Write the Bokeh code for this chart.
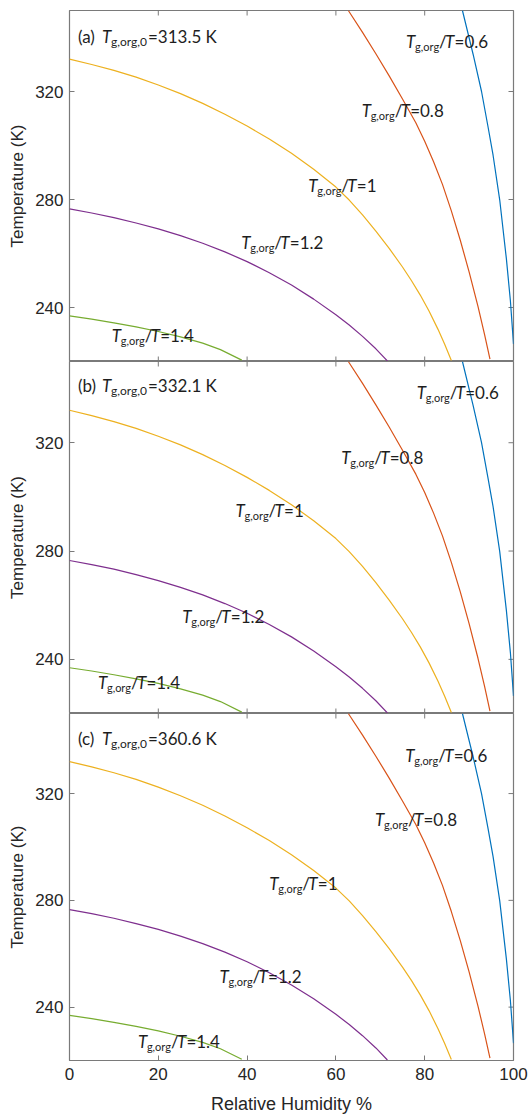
import math
from bokeh.plotting import figure
from bokeh.layouts import column
from bokeh.models import Range1d, FixedTicker, ColumnDataSource
from bokeh.core.properties import value
from bokeh.embed import file_html
from bokeh.resources import INLINE

# ---- data (identical curves in all three panels) ----
rh_06 = [88.5, 90.9, 92.8, 94.2, 95.4, 96.9, 98.4, 99.3, 100.0]
t_06 = [350.0, 333.8, 320.0, 307.5, 296.4, 279.8, 258.0, 242.5, 226.5]

rh_08 = [62.8, 66, 69, 72, 75, 78, 80, 82, 84, 86, 88, 90, 92, 93.5, 94.7]
t_08 = [350.0, 341.9, 334.0, 325.8, 317.2, 308.4, 301.6, 294.0, 285.6, 275.8,
        265.0, 253.2, 240.4, 229.9, 220.9]

rh_10 = [0, 5, 10, 15, 20, 25, 30, 35, 40, 45, 50, 55, 60, 63, 66, 69, 72, 75,
         77, 79, 81, 83, 84.5, 86.0]
t_10 = [332.0, 330.0, 327.8, 325.3, 322.4, 319.2, 315.6, 311.6, 307.2, 302.4, 297.1,
        291.2, 284.6, 279.8, 274.3, 268.3, 261.9, 255.0, 250.0, 244.6, 238.6, 231.9,
        226.4, 220.4]

rh_12 = [0, 5, 10, 15, 20, 25, 30, 35, 40, 45, 50, 55, 60, 63, 66, 69, 71.6]
t_12 = [276.5, 275.0, 273.3, 271.3, 269.1, 266.6, 263.8, 260.6, 257.0, 252.9, 248.3,
        243.1, 237.3, 233.5, 229.3, 224.7, 220.2]

rh_14 = [0, 5, 10, 15, 20, 25, 30, 34, 38.8]
t_14 = [236.9, 235.7, 234.3, 232.8, 231.1, 229.1, 226.8, 224.4, 220.5]

ratios = ["0.6", "0.8", "1", "1.2", "1.4"]
colors = ["#0072BD", "#D95319", "#EDB120", "#7E2F8E", "#77AC30"]
curves = [(rh_06, t_06), (rh_08, t_08), (rh_10, t_10), (rh_12, t_12), (rh_14, t_14)]

panel_tags = ["(a) ", "(b) ", "(c) "]
panel_tg0 = ["313.5", "332.1", "360.6"]

x_ticks = [0, 20, 40, 60, 80, 100]
y_ticks = [240, 280, 320]
XMIN, XMAX = 0, 100
YMIN, YMAX = 220, 350

# label anchor positions (data coords) per panel
label_x = [[75.8, 65.8, 53.8, 38.7, 9.5],
           [78.2, 61.2, 37.4, 25.4, 6.4],
           [75.6, 68.8, 45.0, 33.8, 15.4]]
label_y = [[338.5, 313.0, 285.3, 263.9, 229.5],
           [338.6, 314.6, 295.1, 255.7, 231.5],
           [334.4, 310.4, 286.4, 251.3, 227.3]]
title_x = [1.9, 1.9, 1.9]
title_y = [340.3, 341.3, 340.8]

AXC = "#7a7a7a"
TXT = "#1e1e1e"
LFONT = "Lato"
AFONT = "Liberation Sans"


def style_axis(ax, ticks, label_size):
    ax.ticker = FixedTicker(ticks=ticks)
    ax.axis_line_color = None
    ax.major_tick_line_color = AXC
    ax.major_tick_line_width = 1
    ax.major_tick_in = 5
    ax.major_tick_out = 0
    ax.minor_tick_line_color = None
    ax.major_label_text_font = AFONT
    ax.major_label_text_font_size = "17px"
    ax.major_label_text_color = "#262626"
    ax.axis_label_text_font = AFONT
    ax.axis_label_text_font_size = label_size
    ax.axis_label_text_font_style = "normal"
    ax.axis_label_text_color = "#262626"


def add_piece(p, src, field, dx, dy, size, italic=False):
    p.text(x="x", y="y", text=field, source=src,
           text_font=value(LFONT), text_font_size=size,
           text_font_style="italic" if italic else "normal",
           text_color=TXT, text_baseline="middle", text_align="left",
           x_offset=dx, y_offset=dy)


def make_panel(i, height, top, bottom, last):
    p = figure(width=530, height=height, x_range=Range1d(XMIN, XMAX), y_range=Range1d(YMIN, YMAX),
               output_backend="svg", toolbar_location=None,
               x_axis_location="below" if last else None,
               min_border_left=69, min_border_right=17, min_border_top=top, min_border_bottom=bottom)
    p.outline_line_color = AXC
    p.outline_line_width = 1.2
    p.grid.visible = False
    p.background_fill_color = "white"
    p.border_fill_color = "white"

    ya = p.yaxis[0]
    style_axis(ya, y_ticks, "17px")
    ya.axis_label = "Temperature (K)"
    ya.major_label_standoff = 6
    ya.axis_label_standoff = 5
    if last:
        xa = p.xaxis[0]
        style_axis(xa, x_ticks, "18px")
        xa.axis_label = "Relative Humidity %"
        xa.major_label_standoff = 7
        xa.axis_label_standoff = 11

    # inward ticks on the unlabeled sides of the box
    ntx = len(x_ticks)
    nty = len(y_ticks)
    p.ray(x=x_ticks, y=[YMAX] * ntx, length=5, length_units="screen",
          angle=-math.pi / 2, line_color=AXC, line_width=1)
    p.ray(x=[XMAX] * nty, y=y_ticks, length=5, length_units="screen",
          angle=math.pi, line_color=AXC, line_width=1)
    if not last:
        p.ray(x=x_ticks, y=[YMIN] * ntx, length=5, length_units="screen",
              angle=math.pi / 2, line_color=AXC, line_width=1)

    for (xs, ys), c in zip(curves, colors):
        p.line(xs, ys, line_color=c, line_width=1.2)

    # curve labels: T_{g,org}/T=r
    src = ColumnDataSource(dict(x=label_x[i], y=label_y[i],
                                T=["T"] * 5, sub=["g,org"] * 5, sl=["/"] * 5,
                                rest=["=" + r for r in ratios]))
    add_piece(p, src, "T", 0, 0, "17px", True)
    add_piece(p, src, "sub", 9, 5, "11px")
    add_piece(p, src, "sl", 33, 0, "17px")
    add_piece(p, src, "T", 39, 0, "17px", True)
    add_piece(p, src, "rest", 48.5, 0, "17px")

    # panel title
    tsrc = ColumnDataSource(dict(x=[title_x[i]], y=[title_y[i]], tag=[panel_tags[i]], T=["T"],
                                 sub=["g,org,0"], rest=["=" + panel_tg0[i] + " K"]))
    add_piece(p, tsrc, "tag", 0, 0, "17px")
    add_piece(p, tsrc, "T", 24, 0, "17px", True)
    add_piece(p, tsrc, "sub", 33, 5, "12px")
    add_piece(p, tsrc, "rest", 70, 0, "17px")
    return p


pa = make_panel(0, 361, 10, 0, False)
pb = make_panel(1, 352, 0, 0, False)
pc = make_panel(2, 403, 0, 53, True)

layout = column(pa, pb, pc, spacing=0)
open("out.html", "w").write(file_html(layout, INLINE))
